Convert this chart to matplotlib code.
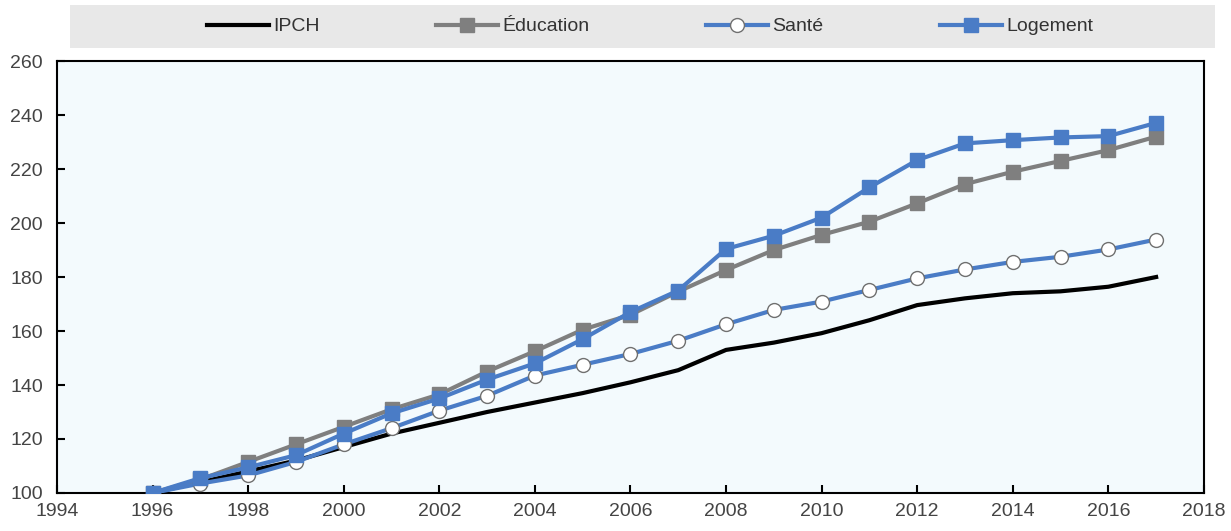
import matplotlib.pyplot as plt
from matplotlib.patches import Rectangle

plt.rcParams['font.family'] = ['Liberation Sans Narrow', 'Liberation Sans', 'DejaVu Sans']

# donnees (indice 1996 = 100)
annees = list(range(1996, 2018))
ipch = [100, 104, 108, 112, 117, 122, 126, 130, 133.5, 137, 141, 145.5,
        153, 155.7, 159.2, 164, 169.6, 172.1, 174, 174.7, 176.4, 180]
education = [100, 105, 111.5, 118, 124.5, 131, 136.5, 145, 152.5, 160.5, 166, 174.6,
             182.6, 190, 195.6, 200.5, 207.3, 214.4, 219, 223, 227, 232]
sante = [100, 103.5, 106.5, 111.5, 118, 124, 130.5, 136, 143.5, 147.5, 151.5, 156.4,
         162.5, 167.8, 170.9, 175.2, 179.5, 182.8, 185.6, 187.5, 190.2, 193.9]
logement = [100, 105.5, 109.5, 114, 122, 129.5, 135, 142, 148, 157, 167, 175,
            190.4, 195.3, 202, 213.2, 223.3, 229.5, 230.7, 231.7, 232.2, 237.1]

bleu = '#4A7CC6'
gris = '#7F7F7F'

fig = plt.figure(figsize=(12.31, 5.31), dpi=100)
ax = fig.add_axes([0.0463, 0.0716, 0.9317, 0.8134])
ax.set_facecolor('#F3FAFD')

ax.plot(annees, ipch, color='black', lw=3, label='IPCH', zorder=3)
ax.plot(annees, education, color=gris, lw=3, marker='s', ms=10, label='Éducation', zorder=4)
ax.plot(annees, sante, color=bleu, lw=3, marker='o', ms=10, mfc='white', mec='#707070',
        mew=1, label='Santé', zorder=5)
ax.plot(annees, logement, color=bleu, lw=3, marker='s', ms=10, label='Logement', zorder=6)

ax.set_xlim(1994, 2018)
ax.set_ylim(100, 260)
ax.set_xticks(range(1994, 2019, 2))
ax.set_yticks(range(100, 261, 20))
ax.tick_params(direction='in', length=6, width=1.5, labelsize=14, labelcolor='#444444',
               top=False, right=False)
ax.tick_params(axis='x', pad=7)
ax.tick_params(axis='y', pad=10)
for s in ax.spines.values():
    s.set_linewidth(1.5)
    s.set_color('black')

# bandeau gris de la legende
fig.patches.append(Rectangle((0.057, 0.91), 0.93, 0.08, transform=fig.transFigure,
                             facecolor='#E8E8E8', edgecolor='none', zorder=0))
h, l = ax.get_legend_handles_labels()
fig.legend(h, l, loc='center', bbox_to_anchor=(0.528, 0.95), ncol=4, frameon=False,
           fontsize=14, columnspacing=6.0, handlelength=3.2, handletextpad=0.2,
           labelcolor='#333333')

fig.savefig('out.png', dpi=100)
